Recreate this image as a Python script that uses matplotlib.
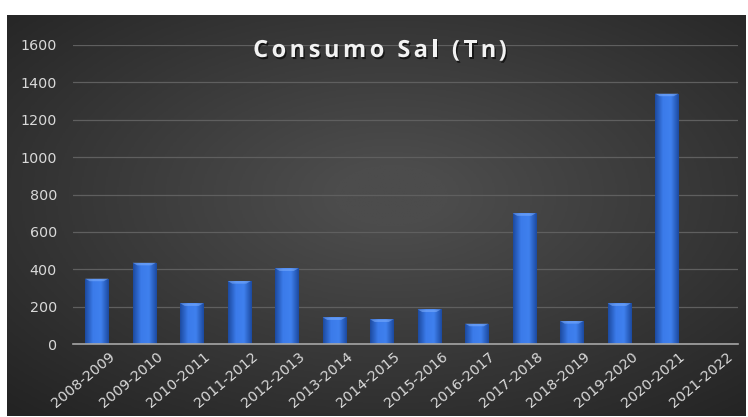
import numpy as np
import matplotlib
matplotlib.use("Agg")
import matplotlib.pyplot as plt
import matplotlib.patheffects as pe
from matplotlib.colors import LinearSegmentedColormap
from matplotlib.transforms import ScaledTranslation

# --- DATA ---
seasons = ["2008-2009", "2009-2010", "2010-2011", "2011-2012", "2012-2013",
           "2013-2014", "2014-2015", "2015-2016", "2016-2017", "2017-2018",
           "2018-2019", "2019-2020", "2020-2021", "2021-2022"]
consumo = [350, 435, 218, 337, 405, 143, 132, 185, 109, 700, 123, 218, 1340, 0]
y_ticks = [0, 200, 400, 600, 800, 1000, 1200, 1400, 1600]
title = "Consumo Sal (Tn)"

W, H = 748, 417
fig = plt.figure(figsize=(W / 100, H / 100), dpi=100)
fig.patch.set_facecolor("white")

# --- dark radial background (excel style) ---
bg = fig.add_axes([7 / W, 1 / H, 739 / W, 401 / H])
bg.set_axis_off()
yy, xx = np.mgrid[0:1:300j, 0:1:500j]
r = np.sqrt(((xx - 0.52) / 0.75) ** 2 + ((yy - 0.45) / 0.75) ** 2)
shade = np.clip(1 - r, 0, 1)
bg_cmap = LinearSegmentedColormap.from_list("bg", ["#232323", "#4c4c4c"])
bg.imshow(shade, cmap=bg_cmap, aspect="auto", extent=[0, 1, 0, 1], vmin=0, vmax=0.9)
bg.set_xlim(0, 1)
bg.set_ylim(0, 1)

# --- main chart ---
ax = fig.add_axes([73 / W, 1 - 344 / H, 665 / W, 299 / H])
ax.patch.set_alpha(0)
x = np.arange(len(seasons))
bars = ax.bar(x, consumo, width=0.49, color="#2f6ad6", edgecolor="#1d478f",
              linewidth=0.6, zorder=3)

# horizontal gradient inside each bar + light bevel at top
bar_cmap = LinearSegmentedColormap.from_list("bar", ["#1c4aa0", "#3b7bea", "#3f80ee", "#1c4aa0"])
grad = np.linspace(0, 1, 64).reshape(1, -1)
for b in bars:
    h = b.get_height()
    if h <= 0:
        continue
    x0, w = b.get_x(), b.get_width()
    im = ax.imshow(grad, cmap=bar_cmap, aspect="auto",
                   extent=[x0, x0 + w, 0, h], zorder=4)
    im.set_clip_path(b)
    bev = min(h, 14)
    ax.fill([x0, x0 + w, x0 + w * 0.8, x0 + w * 0.2],
            [h, h, h - bev, h - bev], color="#7fb0ff", alpha=0.55,
            zorder=5, lw=0)

ax.set_xlim(-0.5, len(seasons) - 0.5)
ax.set_ylim(0, 1600)
ax.set_yticks(y_ticks)
ax.set_xticks(x)
ax.set_xticklabels(seasons, rotation=40, ha="right", rotation_mode="anchor")
ax.tick_params(axis="both", length=0, colors="#d9d9d9", labelsize=10.3)
ax.tick_params(axis="y", pad=11.5)
ax.tick_params(axis="x", pad=4)
shift = ScaledTranslation(12 / 100, 0, fig.dpi_scale_trans)
for lbl in ax.get_xticklabels():
    lbl.set_transform(lbl.get_transform() + shift)
ax.grid(axis="y", color="#5f5f5f", linewidth=0.9, zorder=0)
for s in ["top", "right", "left"]:
    ax.spines[s].set_visible(False)
ax.spines["bottom"].set_color("#a6a6a6")
ax.spines["bottom"].set_linewidth(1.2)
ax.spines["bottom"].set_zorder(6)

# title, letter-spaced, with a soft shadow
title_kw = dict(fontsize=17, fontweight="bold", color="#f2f2f2", family="Open Sans",
                va="center", ha="left",
                path_effects=[pe.withSimplePatchShadow(offset=(1, -1.5), shadow_rgbFace="black", alpha=0.6)])
renderer = fig.canvas.get_renderer()
track = 3.5  # extra px between letters
widths = []
for i in range(len(title) + 1):
    t = fig.text(0, 0, title[:i] + "|", **title_kw)
    bar_w = fig.text(0, 0, "|", **title_kw)
    widths.append(t.get_window_extent(renderer).width - bar_w.get_window_extent(renderer).width)
    t.remove()
    bar_w.remove()
total = widths[-1] + track * (len(title) - 1)
x_start = 380 - total / 2
y_title = 1 - 51 / H
for i, ch in enumerate(title):
    if ch == " ":
        continue
    fig.text((x_start + widths[i] + track * i) / W, y_title, ch, **title_kw)

fig.savefig("out.png", dpi=100)
